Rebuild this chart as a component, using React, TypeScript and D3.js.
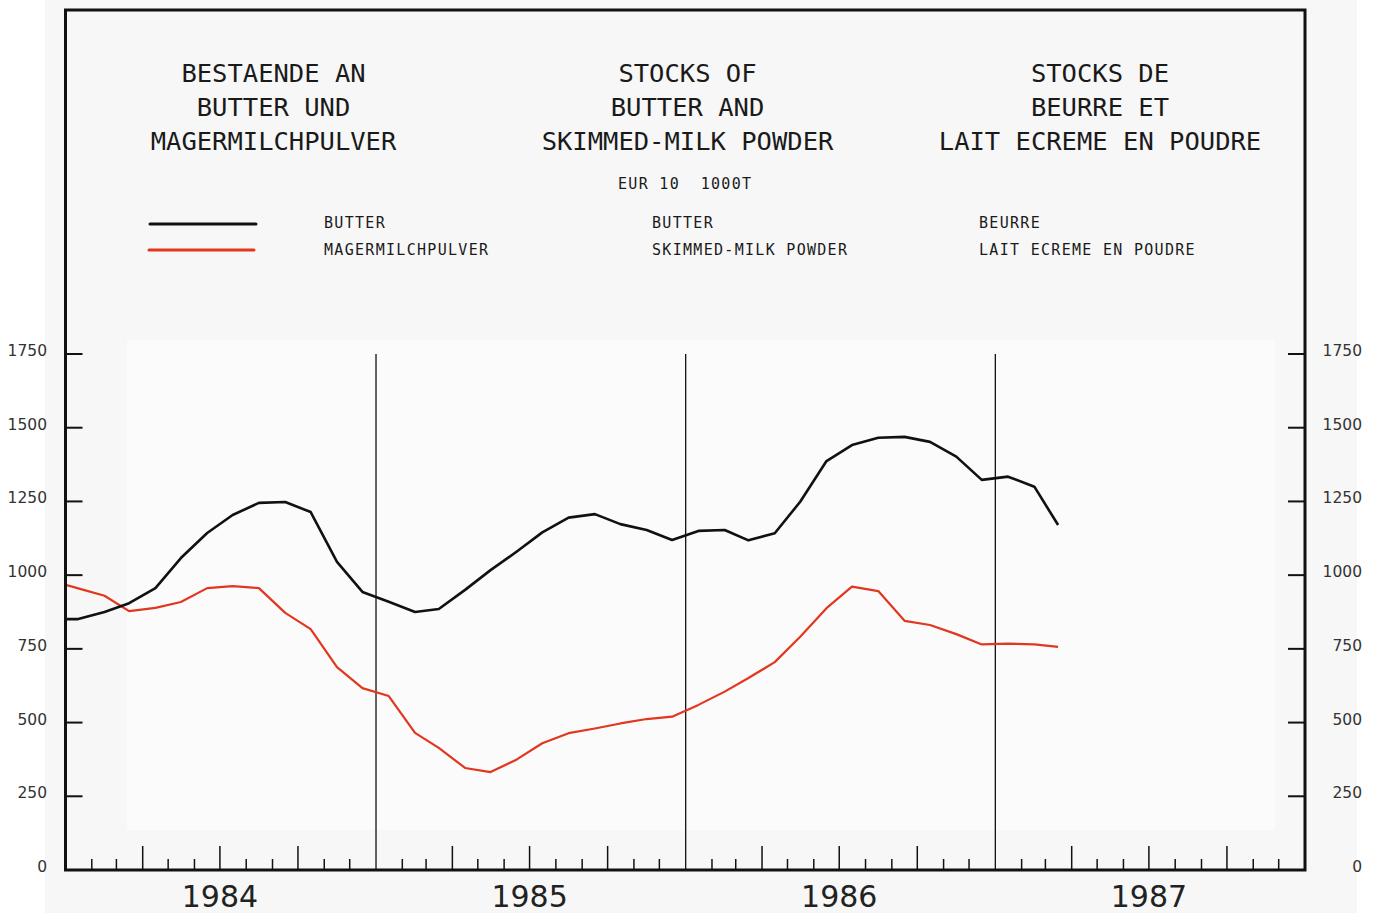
import React from "react";
import * as d3 from "d3";

// ---- data (monthly, mid-month; first point Dec 1983 is clipped at the frame) ----
const months: string[] = [
  "1983-12",
  "1984-01","1984-02","1984-03","1984-04","1984-05","1984-06","1984-07","1984-08","1984-09","1984-10","1984-11","1984-12",
  "1985-01","1985-02","1985-03","1985-04","1985-05","1985-06","1985-07","1985-08","1985-09","1985-10","1985-11","1985-12",
  "1986-01","1986-02","1986-03","1986-04","1986-05","1986-06","1986-07","1986-08","1986-09","1986-10","1986-11","1986-12",
  "1987-01","1987-02","1987-03",
];
const butter: number[] = [
  851, 851, 875, 905, 956, 1058, 1143, 1204, 1245, 1248, 1214, 1045, 943,
  910, 875, 885, 950, 1017, 1080, 1145, 1195, 1207, 1173, 1153, 1119,
  1150, 1153, 1118, 1142, 1249, 1387, 1441, 1466, 1469, 1452, 1402, 1323,
  1334, 1300, 1170,
];
const skimmedMilk: number[] = [
  980, 955, 930, 878, 889, 909, 956, 963, 956, 872, 817, 688, 617,
  590, 465, 414, 346, 332, 375, 430, 464, 480, 497, 512, 520,
  560, 605, 651, 705, 791, 888, 961, 946, 845, 831, 800, 765,
  768, 765, 757,
];
const yTicks: number[] = [0, 250, 500, 750, 1000, 1250, 1500, 1750];
const years: number[] = [1984, 1985, 1986, 1987];

const titleDE = ["BESTAENDE AN", "BUTTER UND", "MAGERMILCHPULVER"];
const titleEN = ["STOCKS OF", "BUTTER AND", "SKIMMED-MILK POWDER"];
const titleFR = ["STOCKS DE", "BEURRE ET", "LAIT ECREME EN POUDRE"];
const unitLabel = "EUR 10  1000T";
const legendDE = ["BUTTER", "MAGERMILCHPULVER"];
const legendEN = ["BUTTER", "SKIMMED-MILK POWDER"];
const legendFR = ["BEURRE", "LAIT ECREME EN POUDRE"];

const W = 1381;
const H = 913;
const L = 65.5, R = 1305, T = 10, B = 870, YTOP = 354;
const MONO = "'DejaVu Sans Mono', monospace";
const SANS = "'DejaVu Sans', sans-serif";
const RED = "#e2361f";

export default function App() {
  const parse = (s: string) => {
    const [y, m] = s.split("-").map(Number);
    return new Date(y, m - 1, 16);
  };
  const x = d3.scaleTime().domain([new Date(1984, 0, 1), new Date(1988, 0, 1)]).range([L, R]);
  const y = d3.scaleLinear().domain([0, 1750]).range([B, YTOP]);

  const line = d3
    .line<number>()
    .x((_, i) => x(parse(months[i])))
    .y((d) => y(d));

  const monthTicks = d3.timeMonth.range(new Date(1984, 0, 1), new Date(1988, 0, 1));
  const yearStarts = years.slice(1).map((yr) => new Date(yr, 0, 1));

  const titleCols = [
    { cx: 273.5, lines: titleDE },
    { cx: 687.5, lines: titleEN },
    { cx: 1100, lines: titleFR },
  ];
  const legendCols = [
    { x0: 324, lines: legendDE },
    { x0: 652, lines: legendEN },
    { x0: 979, lines: legendFR },
  ];

  return (
    <svg width={W} height={H} style={{ position: "absolute", left: 0, top: 0, background: "#fff" }}>
      <defs>
        <clipPath id="plotclip">
          <rect x={L} y={T} width={R - L} height={B - T} />
        </clipPath>
      </defs>
      <rect x={45} y={0} width={1312} height={H} fill="#f7f7f7" />
      <rect x={127} y={340} width={1148} height={490} fill="#fbfbfb" />

      {/* titles */}
      {titleCols.map((c, ci) =>
        c.lines.map((t, li) => (
          <text key={`t${ci}-${li}`} x={c.cx} y={81.5 + li * 34} textAnchor="middle"
            fontFamily={MONO} fontSize={25.5} fill="#1a1a1a">
            {t}
          </text>
        ))
      )}
      <text x={618} y={188.5} fontFamily={MONO} fontSize={15} letterSpacing={1.3} fill="#1a1a1a"
        style={{ whiteSpace: "pre" }} xmlSpace="preserve">
        {unitLabel}
      </text>

      {/* legend */}
      <line x1={150} x2={256} y1={224} y2={224} stroke="#111" strokeWidth={3} strokeLinecap="round" />
      <line x1={149} x2={254} y1={250} y2={250} stroke={RED} strokeWidth={3} strokeLinecap="round" />
      {legendCols.map((c, ci) =>
        c.lines.map((t, li) => (
          <text key={`l${ci}-${li}`} x={c.x0} y={227.5 + li * 27} fontFamily={MONO} fontSize={15}
            letterSpacing={1.3} fill="#1a1a1a">
            {t}
          </text>
        ))
      )}

      {/* year dividers */}
      {yearStarts.map((d, i) => (
        <line key={`yl${i}`} x1={x(d)} x2={x(d)} y1={YTOP} y2={B} stroke="#111" strokeWidth={1.3} />
      ))}

      {/* month ticks */}
      {monthTicks
        .filter((d) => d.getMonth() !== 0)
        .map((d, i) => {
          const long = d.getMonth() % 3 === 0;
          return (
            <line key={`mt${i}`} x1={x(d)} x2={x(d)} y1={B} y2={B - (long ? 24 : 11)} stroke="#111" strokeWidth={1.5} />
          );
        })}

      {/* y ticks and labels */}
      {yTicks.map((v) => (
        <g key={`yt${v}`}>
          {v > 0 && <line x1={L} x2={L + 17} y1={y(v)} y2={y(v)} stroke="#111" strokeWidth={2} />}
          {v > 0 && <line x1={R - 17} x2={R} y1={y(v)} y2={y(v)} stroke="#111" strokeWidth={2} />}
          <text x={47} y={y(v) + 2} textAnchor="end" fontFamily={SANS} fontSize={15.5} fill="#333">{v}</text>
          <text x={1362} y={y(v) + 2} textAnchor="end" fontFamily={SANS} fontSize={15.5} fill="#333">{v}</text>
        </g>
      ))}

      {/* year labels */}
      {years.map((yr) => (
        <text key={`yr${yr}`} x={x(new Date(yr, 6, 1))} y={907} textAnchor="middle" fontFamily={SANS}
          fontSize={30} fill="#222">
          {yr}
        </text>
      ))}

      {/* data lines */}
      <g clipPath="url(#plotclip)">
        <path d={line(skimmedMilk) || ""} fill="none" stroke={RED} strokeWidth={2.2} strokeLinejoin="round" />
        <path d={line(butter) || ""} fill="none" stroke="#111" strokeWidth={2.6} strokeLinejoin="round" />
      </g>

      {/* frame */}
      <rect x={L} y={T} width={R - L} height={B - T} fill="none" stroke="#111" strokeWidth={3} />
    </svg>
  );
}
